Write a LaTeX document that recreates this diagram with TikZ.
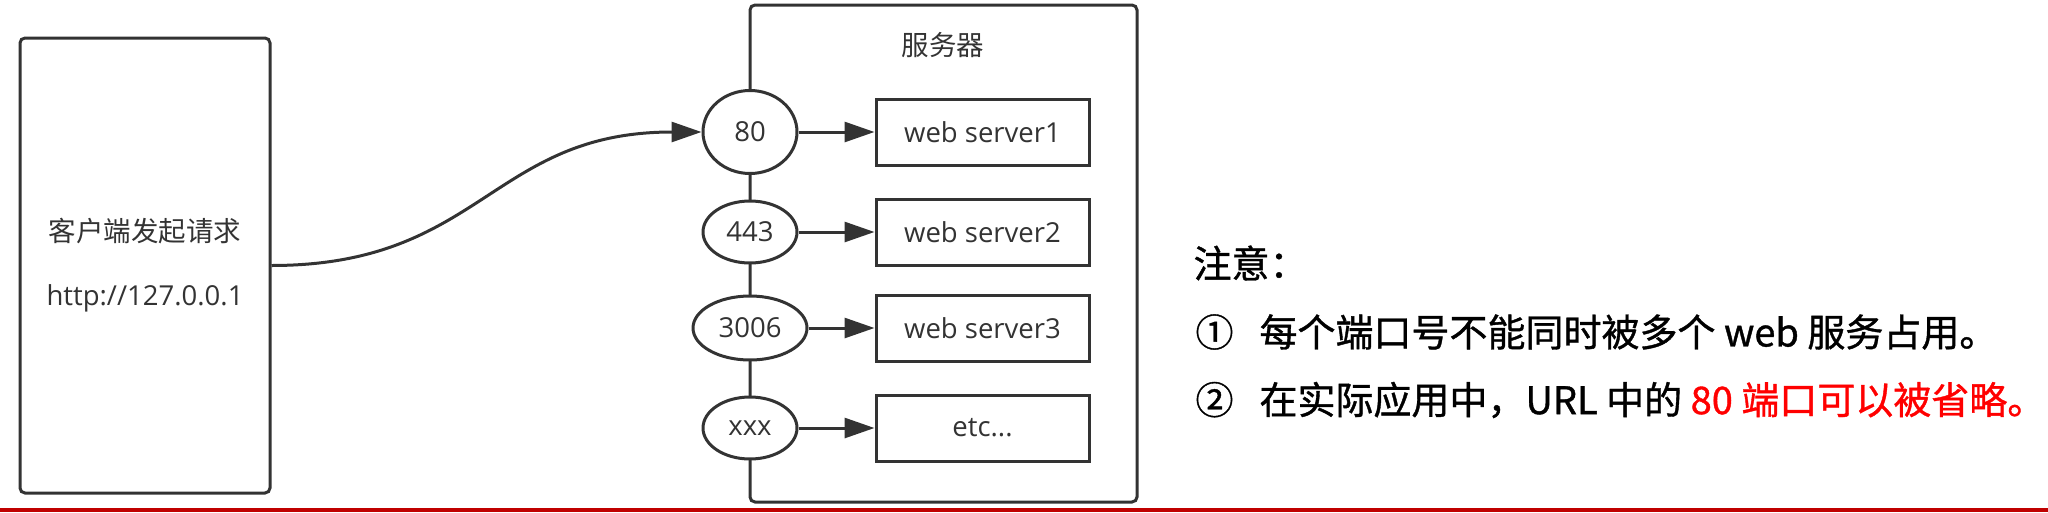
\documentclass[tikz,border=0pt]{standalone}
\usepackage{fontspec}
\setmainfont{Open Sans}
\newfontfamily\cjk{Noto Sans CJK SC}
\newfontfamily\notefont[FakeBold=1]{Noto Sans CJK SC}
\usetikzlibrary{arrows.meta,shapes.geometric}
\definecolor{linegray}{HTML}{333333}
\definecolor{barred}{HTML}{C00000}
\definecolor{textred}{HTML}{FF0000}

\def\portrow#1#2#3#4#5#6{
	\node[portnode,minimum width=#3,minimum height=#4] (p#1) at (750,#2) {#5};
	\node[serverbox] (s#1) at (982.5,#2) {#6};
	\draw[->] (p#1) -- (s#1);
}

\begin{document}
\begin{tikzpicture}[x=1pt,y=-1pt,>={Triangle[length=30pt,width=20pt]},line width=3pt,draw=linegray,
	every node/.style={text=linegray,font=\fontsize{27.5}{64}\selectfont},
	portnode/.style={ellipse,draw=linegray,fill=white,inner sep=0pt},
	serverbox/.style={draw=linegray,minimum width=213pt,minimum height=66pt,inner sep=0pt},
	note/.style={anchor=west,inner sep=0pt,text=black,font=\notefont\fontsize{38}{46}\selectfont}]
\useasboundingbox (0,0) rectangle (2048,512);

\node[draw=linegray,rounded corners=5pt,minimum width=250pt,minimum height=455pt,align=center] (client) at (145,265.5) {{\cjk 客户端发起请求}\\http://127.0.0.1};

\node[draw=linegray,rounded corners=5pt,minimum width=387pt,minimum height=497pt] (server) at (943.5,253.5) {};
\node (serverlabel) at (943,45) {\cjk 服务器};

\portrow{80}{132}{94pt}{83pt}{80}{web server1}
\portrow{443}{232}{94pt}{62pt}{443}{web server2}
\portrow{3006}{328}{114pt}{64pt}{3006}{web server3}
\portrow{xxx}{428}{94pt}{62pt}{xxx}{etc...}

\draw[->] (client.east) .. controls +(210,0) and +(-210,0) .. (p80.west);

\node[note] (notehead) at (1192,263) {注意：};
\node[note] (noteone) at (1194,332) {①\hspace{26pt}每个端口号不能同时被多个 web 服务占用。};
\node[note] (notetwo) at (1194,400) {②\hspace{26pt}在实际应用中，URL 中的 \textcolor{textred}{80 端口可以被省略。}};

\fill[barred] (0,507.5) rectangle (2048,512);
\end{tikzpicture}
\end{document}
